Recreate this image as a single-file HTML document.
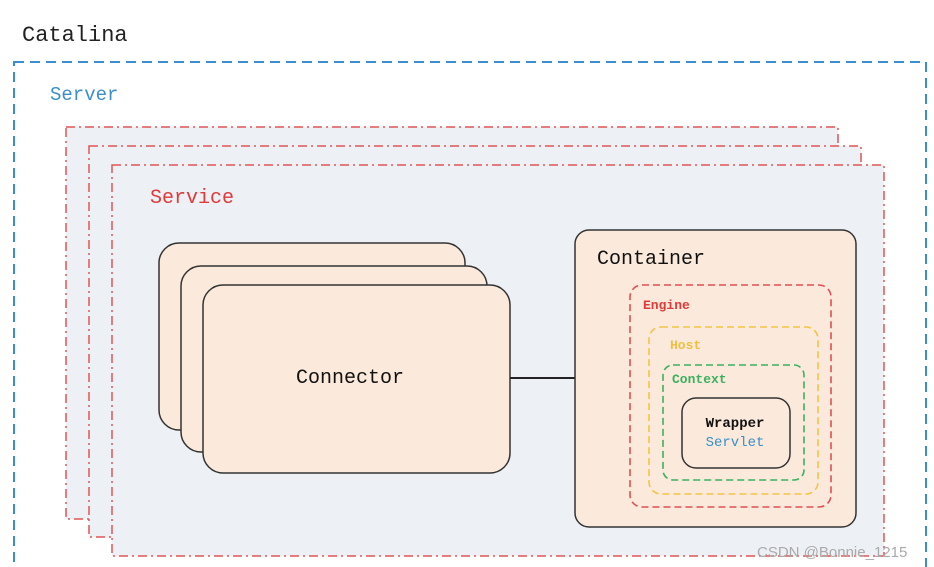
<!DOCTYPE html>
<html><head><meta charset="utf-8"><style>
html,body{margin:0;padding:0;background:#fff;width:934px;height:567px;overflow:hidden}
svg text{font-family:"Liberation Mono","DejaVu Sans Mono",monospace}
</style></head><body>
<svg width="934" height="567" viewBox="0 0 934 567" xmlns="http://www.w3.org/2000/svg">
<text x="22" y="41" font-size="22" fill="#222">Catalina</text>
<rect x="14" y="62" width="912" height="530" fill="#fff" stroke="#3a8fd0" stroke-width="2" stroke-dasharray="10,6"/>
<text x="50" y="100" font-size="19" fill="#3a8fc8">Server</text>
<g fill="#edf0f5" stroke="#e05555" stroke-width="1.5" stroke-dasharray="9,4,2,4">
<rect x="66" y="127" width="772" height="392"/>
<rect x="89" y="146" width="772" height="391"/>
<rect x="112" y="165" width="772" height="391"/>
</g>
<text x="150" y="203" font-size="20" fill="#e03a3a">Service</text>
<g fill="#fbeadc" stroke="#333" stroke-width="1.5">
<rect x="159" y="243" width="306" height="187" rx="20"/>
<rect x="181" y="266" width="306" height="186" rx="20"/>
<rect x="203" y="285" width="307" height="188" rx="20"/>
</g>
<text x="350" y="383" font-size="20" fill="#111" text-anchor="middle">Connector</text>
<line x1="510" y1="378" x2="575" y2="378" stroke="#222" stroke-width="2"/>
<rect x="575" y="230" width="281" height="297" rx="14" fill="#fbeadc" stroke="#333" stroke-width="1.5"/>
<text x="597" y="264" font-size="20" fill="#111">Container</text>
<rect x="630" y="285" width="201" height="222" rx="12" fill="none" stroke="#e05050" stroke-width="1.6" stroke-dasharray="7,4"/>
<text x="643" y="309" font-size="13" fill="#e03a3a" font-weight="bold">Engine</text>
<rect x="649" y="327" width="169" height="167" rx="12" fill="none" stroke="#f2c445" stroke-width="1.6" stroke-dasharray="7,4"/>
<text x="670" y="349" font-size="13" fill="#f0c040" font-weight="bold">Host</text>
<rect x="663" y="365" width="141" height="115" rx="10" fill="none" stroke="#3cb060" stroke-width="1.6" stroke-dasharray="7,4"/>
<text x="672" y="383" font-size="13" fill="#3cb060" font-weight="bold">Context</text>
<rect x="682" y="398" width="108" height="70" rx="14" fill="#fbeadc" stroke="#333" stroke-width="1.5"/>
<text x="735" y="427" font-size="14" fill="#111" font-weight="bold" text-anchor="middle">Wrapper</text>
<text x="735" y="446" font-size="14" fill="#3a8fc8" text-anchor="middle">Servlet</text>
<text x="757" y="557" font-size="15" fill="#aaa" style="font-family:'Liberation Sans',sans-serif">CSDN @Bonnie_1215</text>
</svg>
</body></html>
